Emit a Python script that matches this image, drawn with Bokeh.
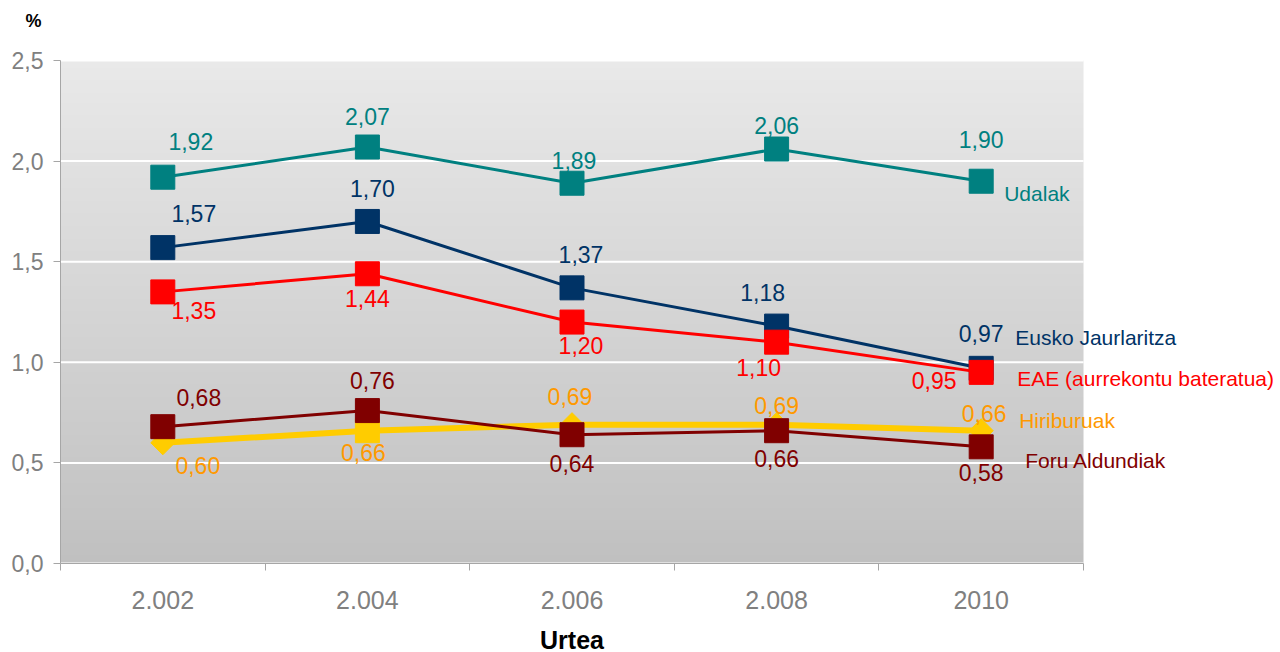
import numpy as np
from bokeh.plotting import figure
from bokeh.models import Range1d, FixedTicker, Label, ColumnDataSource
from bokeh.core.properties import value
from bokeh.embed import file_html
from bokeh.resources import INLINE

# ---- data ----
years = ["2.002", "2.004", "2.006", "2.008", "2010"]
y_ticks = [0.0, 0.5, 1.0, 1.5, 2.0, 2.5]
y_tick_labels = ["0,0", "0,5", "1,0", "1,5", "2,0", "2,5"]

udalak = [1.92, 2.07, 1.89, 2.06, 1.90]
eusko = [1.57, 1.70, 1.37, 1.18, 0.97]
eae = [1.35, 1.44, 1.20, 1.10, 0.95]
hiriburuak = [0.60, 0.66, 0.69, 0.69, 0.66]
foru = [0.68, 0.76, 0.64, 0.66, 0.58]

series_names = ["Udalak", "Eusko Jaurlaritza", "EAE (aurrekontu bateratua)", "Hiriburuak", "Foru Aldundiak"]

# ---- styles / label placement (screen px) ----
FONT = "Liberation Sans"
SQ = ([24] * 5, [0.0] * 5)                                   # plain squares
HIRI_MK = ([17, 24, 17, 17, 17], [np.pi / 4, 0.0, np.pi / 4, np.pi / 4, np.pi / 4])
styles = [
    # values, line color, text color, line width, marker (sizes, angles), label offsets, name offset
    (udalak, "#008080", "#008080", 3, SQ,
     [(28, -36), (0, -31), (2, -23), (0, -24), (0, -42)], (23, 12)),
    (eusko, "#003366", "#003366", 3, SQ,
     [(31, -34), (5, -33), (9, -33), (-14, -34), (0, -35)], (34, -31)),
    (eae, "#ff0000", "#ff0000", 3, SQ,
     [(31, 19), (0, 25), (9, 23), (-18, 25), (-47, 8)], (36, 6)),
    (hiriburuak, "#ffcc00", "#ff9900", 6, HIRI_MK,
     [(35, 23), (-4, 22), (-2, -28), (0, -19), (3, -17)], (38, -10)),
    (foru, "#800000", "#800000", 3, SQ,
     [(36, -29), (5, -30), (0, 29), (0, 28), (0, 26)], (44, 14)),
]

# layout in px: the frame covers the whole canvas, the shaded plot area sits inside it
W, H = 1280, 652
LEFT, TOP, PLOT_W, PLOT_H = 60, 60, 1023, 503

n = len(years)
xs = [i + 0.5 for i in range(n)]
ppx = PLOT_W / n
ppy = PLOT_H / (y_ticks[-1] - y_ticks[0])
x_range = Range1d(-LEFT / ppx, (W - LEFT) / ppx)
y_range = Range1d(y_ticks[0] - (H - TOP - PLOT_H) / ppy, y_ticks[-1] + TOP / ppy)

p = figure(width=W, height=H, output_backend="svg", toolbar_location=None,
           x_range=x_range, y_range=y_range,
           min_border_left=0, min_border_right=0, min_border_top=0, min_border_bottom=0)
p.outline_line_color = None
p.background_fill_color = "#ffffff"
p.border_fill_color = "#ffffff"

# gradient background of the plot area
rows = 200
img = np.zeros((rows, 1), dtype=np.uint32)
view = img.view(dtype=np.uint8).reshape((rows, 1, 4))
for r in range(rows):
    t = r / (rows - 1)
    g = int(round(192 + (233 - 192) * t))
    view[r, 0, :] = [g, g, g, 255]
p.image_rgba(image=[img], x=0, y=y_ticks[0], dw=n, dh=y_ticks[-1] - y_ticks[0], level="image")

# grid (only across the plot area)
p.xgrid.visible = False
p.ygrid.visible = False
p.segment(x0=[0] * len(y_ticks), x1=[n] * len(y_ticks), y0=y_ticks, y1=y_ticks,
          line_color="white", line_width=2)

# axes, pinned to the plot area's edges
p.yaxis.fixed_location = 0
p.yaxis.bounds = (y_ticks[0], y_ticks[-1])
p.yaxis.ticker = FixedTicker(ticks=y_ticks)
p.yaxis.major_label_overrides = {t: l for t, l in zip(y_ticks, y_tick_labels)}
p.yaxis.axis_line_color = "#a6a6a6"
p.yaxis.major_tick_line_color = "#a6a6a6"
p.yaxis.major_tick_out = 7
p.yaxis.major_tick_in = 0
p.yaxis.minor_tick_line_color = None
p.yaxis.major_label_text_font = FONT
p.yaxis.major_label_text_font_size = "23px"
p.yaxis.major_label_text_color = "#808080"
p.yaxis.major_label_standoff = 10

p.xaxis.fixed_location = y_ticks[0]
p.xaxis.bounds = (0, n)
p.xaxis.ticker = FixedTicker(ticks=xs, minor_ticks=list(range(n + 1)))
p.xaxis.major_label_overrides = {x: y for x, y in zip(xs, years)}
p.xaxis.axis_line_color = "#a6a6a6"
p.xaxis.major_tick_line_color = None
p.xaxis.major_tick_out = 0
p.xaxis.major_tick_in = 0
p.xaxis.minor_tick_line_color = "#a6a6a6"
p.xaxis.minor_tick_out = 7
p.xaxis.minor_tick_in = 0
p.xaxis.major_label_text_font = FONT
p.xaxis.major_label_text_font_size = "25px"
p.xaxis.major_label_text_color = "#808080"
p.xaxis.major_label_standoff = 20
p.xaxis.axis_label = "Urtea"
p.xaxis.axis_label_text_font = FONT
p.xaxis.axis_label_text_font_size = "25px"
p.xaxis.axis_label_text_font_style = "bold"
p.xaxis.axis_label_text_color = "black"
p.xaxis.axis_label_standoff = 14

for vals, lc, tc, lw, mk, offs, noff in styles:
    src = ColumnDataSource(dict(x=xs, y=vals, sz=mk[0], ang=mk[1]))
    p.line("x", "y", source=src, line_color=lc, line_width=lw)
    p.scatter("x", "y", source=src, marker="square", size="sz", angle="ang",
              fill_color=lc, line_color=lc)

for vals, lc, tc, lw, mk, offs, noff in styles:
    src = ColumnDataSource(dict(
        x=xs, y=vals,
        txt=[f"{v:.2f}".replace(".", ",") for v in vals],
        dx=[o[0] for o in offs], dy=[o[1] for o in offs],
    ))
    p.text("x", "y", text="txt", source=src, x_offset="dx", y_offset="dy",
           text_align="center", text_baseline="middle", text_color=tc,
           text_font=value(FONT), text_font_size="23px")

for (vals, lc, tc, lw, mk, offs, noff), name in zip(styles, series_names):
    p.add_layout(Label(x=xs[-1], y=vals[-1], text=name, x_offset=noff[0], y_offset=-noff[1],
                       text_align="left", text_baseline="middle", text_color=tc,
                       text_font=FONT, text_font_size="21px"))

# "%" unit label at the top-left corner of the plot area
p.add_layout(Label(x=0, y=y_ticks[-1], text="%", x_offset=-27, y_offset=40,
                   text_align="center", text_baseline="middle", text_color="black",
                   text_font=FONT, text_font_size="18px", text_font_style="bold"))

open("out.html", "w").write(file_html(p, INLINE))
